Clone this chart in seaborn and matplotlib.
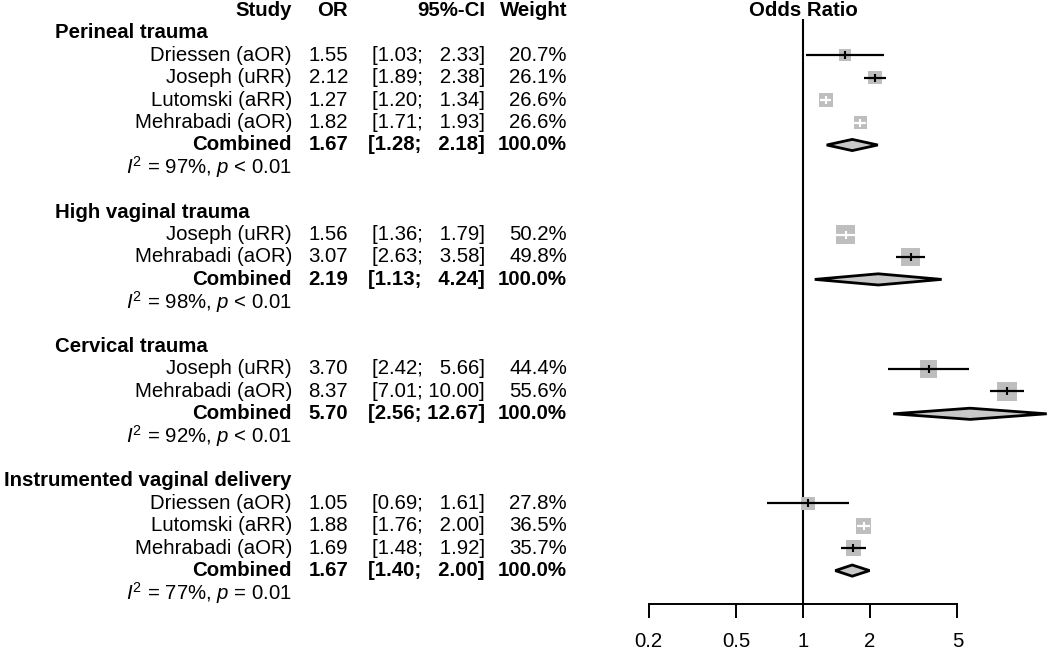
import numpy as np
import pandas as pd
import matplotlib
matplotlib.use("Agg")
import matplotlib.pyplot as plt
import matplotlib.transforms as mtransforms
import seaborn as sns

# data
group_names = ["Perineal trauma", "High vaginal trauma", "Cervical trauma",
               "Instrumented vaginal delivery"]

perineal_studies = ["Driessen (aOR)", "Joseph (uRR)", "Lutomski (aRR)", "Mehrabadi (aOR)"]
perineal_or = [1.55, 2.12, 1.27, 1.82]
perineal_lo = [1.03, 1.89, 1.20, 1.71]
perineal_hi = [2.33, 2.38, 1.34, 1.93]
perineal_w = [20.7, 26.1, 26.6, 26.6]

highvag_studies = ["Joseph (uRR)", "Mehrabadi (aOR)"]
highvag_or = [1.56, 3.07]
highvag_lo = [1.36, 2.63]
highvag_hi = [1.79, 3.58]
highvag_w = [50.2, 49.8]

cervical_studies = ["Joseph (uRR)", "Mehrabadi (aOR)"]
cervical_or = [3.70, 8.37]
cervical_lo = [2.42, 7.01]
cervical_hi = [5.66, 10.00]
cervical_w = [44.4, 55.6]

instr_studies = ["Driessen (aOR)", "Lutomski (aRR)", "Mehrabadi (aOR)"]
instr_or = [1.05, 1.88, 1.69]
instr_lo = [0.69, 1.76, 1.48]
instr_hi = [1.61, 2.00, 1.92]
instr_w = [27.8, 36.5, 35.7]

combined_or = [1.67, 2.19, 5.70, 1.67]
combined_lo = [1.28, 1.13, 2.56, 1.40]
combined_hi = [2.18, 4.24, 12.67, 2.00]
i2_values = [97, 98, 92, 77]
p_texts = ["< 0.01", "< 0.01", "< 0.01", "= 0.01"]

x_ticks = [0.2, 0.5, 1, 2, 5]

# build table with a row number for every line of the plot
studies = [perineal_studies, highvag_studies, cervical_studies, instr_studies]
ors = [perineal_or, highvag_or, cervical_or, instr_or]
los = [perineal_lo, highvag_lo, cervical_lo, instr_lo]
his = [perineal_hi, highvag_hi, cervical_hi, instr_hi]
ws = [perineal_w, highvag_w, cervical_w, instr_w]

recs, grp_rows, comb_rows, het_rows = [], [], [], []
row = 1
for g in range(len(group_names)):
    grp_rows.append(row)
    row += 1
    for s, o, lo, hi, w in zip(studies[g], ors[g], los[g], his[g], ws[g]):
        recs.append(dict(study=s, OR=o, lo=lo, hi=hi, w=w, row=row))
        row += 1
    comb_rows.append(row)
    het_rows.append(row + 1)
    row += 3
df = pd.DataFrame(recs)
axis_row = het_rows[-1] + 0.5

sns.set_style("white")
plt.rcParams["font.family"] = ["Liberation Sans", "DejaVu Sans"]
plt.rcParams["text.color"] = "black"
plt.rcParams["mathtext.fontset"] = "custom"
plt.rcParams["mathtext.rm"] = "Liberation Sans"
plt.rcParams["mathtext.it"] = "Liberation Sans:italic"

W, H = 1050, 652
fig = plt.figure(figsize=(W / 100, H / 100), dpi=100)
ax = fig.add_axes([600 / W, 0, 450 / W, 1])
ax.set_xscale("log")
ppd = 221.0  # pixels per decade
ax.set_xlim(10 ** ((600 - 803) / ppd), 10 ** ((1050 - 803) / ppd))
row_px, row0 = 22.4, 10.6
ax.set_ylim((H - row0) / row_px, -row0 / row_px)
ax.patch.set_alpha(0)

fs = 14.7
sq_color = "#BEBEBE"

# reference line
ax.vlines(1, 0.375, axis_row, color="black", lw=1.5)

# study squares, area proportional to weight
side100 = 26 * 0.72
sns.scatterplot(data=df, x="OR", y="row", size="w", sizes=(0, side100 ** 2),
                size_norm=(0, 100), marker="s", color=sq_color, linewidth=0,
                legend=False, ax=ax, zorder=2)

# CI lines: white if it fits inside the box
for _, r in df.iterrows():
    ci_px = ppd * np.log10(r.hi / r.lo)
    side_px = 2.6 * np.sqrt(r.w)
    c = "white" if ci_px < 1.5 * side_px else "black"
    ax.hlines(r.row, r.lo, r.hi, color=c, lw=1.6, zorder=3)
    ax.plot(r.OR, r.row, marker="|", ms=6, mew=1.5, color=c, zorder=4)

# diamonds for combined estimates
dh = 0.25
for g in range(len(group_names)):
    y = comb_rows[g]
    xs = [combined_lo[g], combined_or[g], combined_hi[g], combined_or[g]]
    ys = [y, y - dh, y, y + dh]
    ax.fill(xs, ys, facecolor="#C8C8C8", edgecolor="black", lw=2, zorder=3)

# x axis at the bottom
for sp in ["top", "right", "left"]:
    ax.spines[sp].set_visible(False)
ax.spines["bottom"].set_position(("data", axis_row))
ax.spines["bottom"].set_bounds(x_ticks[0], x_ticks[-1])
ax.spines["bottom"].set_linewidth(1.4)
ax.spines["bottom"].set_color("black")
ax.set_xticks(x_ticks)
ax.set_xticklabels([f"{t:g}" for t in x_ticks])
ax.xaxis.set_minor_locator(matplotlib.ticker.NullLocator())
ax.tick_params(axis="x", direction="out", length=10, width=1.4, pad=10,
               labelsize=fs, colors="black", bottom=True)
ax.set_yticks([])
ax.set_xlabel("")
ax.set_ylabel("")

ax.text(1, 0, "Odds Ratio", ha="center", va="center", fontsize=fs,
        fontweight="bold")

# text columns
tr = mtransforms.blended_transform_factory(fig.transFigure, ax.transData)
col_study, col_or, col_ci, col_w = 292 / W, 348 / W, 485 / W, 567 / W


def ci_text(lo, hi):
    hs = f"{hi:.2f}"
    return f"[{lo:.2f}; " + "  " * (5 - len(hs)) + hs + "]"


def put(x, y, s, **kw):
    ax.text(x, y, s, transform=tr, va="center", fontsize=fs, **kw)


for x, s in zip([col_study, col_or, col_ci, col_w], ["Study", "OR", "95%-CI", "Weight"]):
    put(x, 0, s, ha="right", fontweight="bold")

for g, name in enumerate(group_names):
    if len(name) > 25:
        put(col_study, grp_rows[g], name, ha="right", fontweight="bold")
    else:
        put(55 / W, grp_rows[g], name, ha="left", fontweight="bold")
    y = comb_rows[g]
    put(col_study, y, "Combined", ha="right", fontweight="bold")
    put(col_or, y, f"{combined_or[g]:.2f}", ha="right", fontweight="bold")
    put(col_ci, y, ci_text(combined_lo[g], combined_hi[g]), ha="right", fontweight="bold")
    put(col_w, y, "100.0%", ha="right", fontweight="bold")
    put(col_study, het_rows[g],
        r"$\it{I}^2$ = " + f"{i2_values[g]}%, " + r"$\it{p}$ " + p_texts[g],
        ha="right")

for _, r in df.iterrows():
    put(col_study, r.row, r.study, ha="right")
    put(col_or, r.row, f"{r.OR:.2f}", ha="right")
    put(col_ci, r.row, ci_text(r.lo, r.hi), ha="right")
    put(col_w, r.row, f"{r.w:.1f}%", ha="right")

fig.savefig("out.png", dpi=100)
